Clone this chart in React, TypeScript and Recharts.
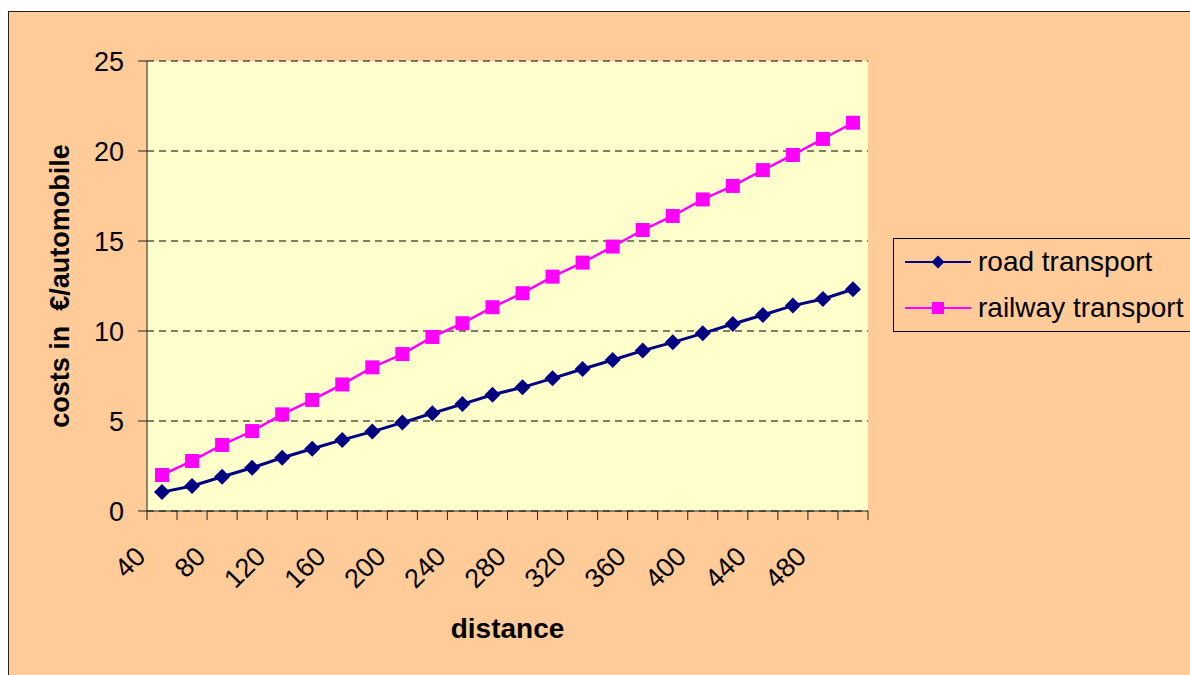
import { LineChart, Line, XAxis, YAxis, CartesianGrid, Legend, Label } from 'recharts';

// distance in km, cost per automobile in €
const distances = [40, 60, 80, 100, 120, 140, 160, 180, 200, 220, 240, 260, 280, 300, 320, 340, 360, 380, 400, 420, 440, 460, 480, 500];
const roadCosts = [1.05, 1.39, 1.9, 2.4, 2.96, 3.46, 3.95, 4.41, 4.91, 5.43, 5.94, 6.46, 6.87, 7.37, 7.89, 8.39, 8.91, 9.37, 9.87, 10.39, 10.89, 11.41, 11.78, 12.32];
const railCosts = [2.0, 2.78, 3.67, 4.44, 5.37, 6.17, 7.03, 7.98, 8.72, 9.67, 10.43, 11.32, 12.1, 13.02, 13.8, 14.69, 15.61, 16.39, 17.31, 18.06, 18.94, 19.78, 20.67, 21.57];
const costTicks = [0, 5, 10, 15, 20, 25];

const data = distances.map((d, i) => ({ distance: d, road: roadCosts[i], rail: railCosts[i] }));

const W = 1190;
const H = 675;
const MARGIN = { top: 61, right: 322, bottom: 64, left: 67 };
const Y_AXIS_W = 80;
const X_AXIS_H = 100;
const BAND = (W - MARGIN.left - Y_AXIS_W - MARGIN.right) / distances.length;

const FONT = '"Liberation Sans", Arial, Helvetica, sans-serif';
const NAVY = '#000080';
const MAGENTA = '#FF00FF';
const AXIS = '#222222';
const PEACH = '#FFCC99';
const PLOT_BG = '#FFFFCC';

function Diamond({ cx, cy, r = 8 }: { cx: number; cy: number; r?: number }) {
  return <polygon points={`${cx},${cy - r} ${cx + r},${cy} ${cx},${cy + r} ${cx - r},${cy}`} fill={NAVY} />;
}

function Square({ cx, cy, s = 14 }: { cx: number; cy: number; s?: number }) {
  return <rect x={cx - s / 2} y={cy - s / 2} width={s} height={s} fill={MAGENTA} />;
}

// category ticks sit on the band edges, labels on every other category
function DistanceTick(props: any) {
  const { x, y, payload, index } = props;
  const half = BAND / 2;
  const tx = x - 15;
  const ty = y + 47;
  return (
    <g>
      <line x1={x - half} x2={x - half} y1={y} y2={y + 9} stroke={AXIS} />
      {index === distances.length - 1 && <line x1={x + half} x2={x + half} y1={y} y2={y + 9} stroke={AXIS} />}
      {index % 2 === 0 && (
        <text x={tx} y={ty} textAnchor="end" transform={`rotate(-45 ${tx} ${ty})`} fontSize={27} fill="#000" fontFamily={FONT}>
          {payload.value}
        </text>
      )}
    </g>
  );
}

function LegendBox() {
  const row = (label: string, color: string, marker: JSX.Element) => (
    <div style={{ display: 'flex', alignItems: 'center', height: 46 }}>
      <svg width={84} height={20} style={{ flex: 'none' }}>
        <line x1={11} x2={77} y1={10} y2={10} stroke={color} strokeWidth={2} />
        {marker}
      </svg>
      <span style={{ whiteSpace: 'pre' }}>{label}</span>
    </div>
  );
  return (
    <div
      style={{
        width: 300,
        height: 94,
        boxSizing: 'border-box',
        border: '1px solid #000',
        background: PEACH,
        fontFamily: FONT,
        fontSize: 28,
        color: '#000',
        lineHeight: 1,
      }}
    >
      {row('road transport', NAVY, <Diamond cx={44} cy={10} r={6.5} />)}
      {row('railway transport', MAGENTA, <Square cx={44} cy={10} s={12} />)}
    </div>
  );
}

export default function App() {
  return (
    <div style={{ position: 'fixed', left: 0, top: 0, width: W, height: H, overflow: 'hidden', background: '#fff' }}>
      <div
        style={{
          position: 'absolute',
          left: 8,
          top: 11,
          width: 1400,
          height: 900,
          background: PEACH,
          border: '1px solid #222',
        }}
      />
      <div style={{ position: 'absolute', left: 0, top: 0 }}>
        <LineChart width={W} height={H} data={data} margin={MARGIN}>
          <CartesianGrid vertical={false} fill={PLOT_BG} stroke="#000" strokeDasharray="7 5" />
          <XAxis
            dataKey="distance"
            height={X_AXIS_H}
            padding={{ left: BAND / 2, right: BAND / 2 }}
            interval={0}
            tickSize={0}
            tickMargin={0}
            tickLine={false}
            axisLine={{ stroke: AXIS }}
            tick={<DistanceTick />}
          >
            <Label
              content={({ viewBox }: any) => (
                <text
                  x={viewBox.x + viewBox.width / 2}
                  y={viewBox.y + 127}
                  textAnchor="middle"
                  fontSize={28}
                  fontWeight="bold"
                  fontFamily={FONT}
                  fill="#000"
                >
                  distance
                </text>
              )}
            />
          </XAxis>
          <YAxis
            width={Y_AXIS_W}
            domain={[0, 25]}
            ticks={costTicks}
            tickSize={9}
            tickMargin={14}
            axisLine={{ stroke: AXIS }}
            tickLine={{ stroke: AXIS }}
            tick={{ fontSize: 27, fill: '#000', fontFamily: FONT }}
          >
            <Label
              content={({ viewBox }: any) => {
                const cx = viewBox.x - 7;
                const cy = viewBox.y + viewBox.height / 2;
                return (
                  <text
                    x={cx}
                    y={cy}
                    textAnchor="middle"
                    dominantBaseline="central"
                    transform={`rotate(-90 ${cx} ${cy})`}
                    fontSize={27}
                    fontWeight="bold"
                    fontFamily={FONT}
                    fill="#000"
                    style={{ whiteSpace: 'pre' }}
                  >
                    {'costs in  €/automobile'}
                  </text>
                );
              }}
            />
          </YAxis>
          <Legend
            layout="vertical"
            align="center"
            verticalAlign="middle"
            wrapperStyle={{ left: 893, top: 238, width: 300, height: 94 }}
            content={() => <LegendBox />}
          />
          <Line
            type="linear"
            dataKey="road"
            name="road transport"
            stroke={NAVY}
            strokeWidth={3}
            isAnimationActive={false}
            dot={(p: any) => <Diamond key={`road-${p.index}`} cx={p.cx} cy={p.cy} />}
            activeDot={false}
          />
          <Line
            type="linear"
            dataKey="rail"
            name="railway transport"
            stroke={MAGENTA}
            strokeWidth={2.5}
            isAnimationActive={false}
            dot={(p: any) => <Square key={`rail-${p.index}`} cx={p.cx} cy={p.cy} />}
            activeDot={false}
          />
        </LineChart>
      </div>
    </div>
  );
}
